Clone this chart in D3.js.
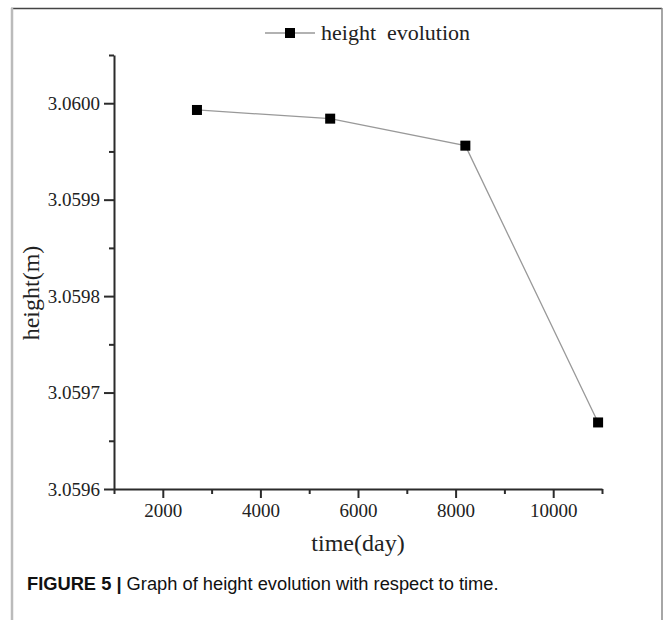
<!DOCTYPE html>
<html>
<head>
<meta charset="utf-8">
<script src="https://cdn.jsdelivr.net/npm/d3@7"></script>
<style>
  html, body { margin: 0; padding: 0; background: #fff; }
  svg { display: block; }
</style>
</head>
<body>
<svg id="chart" width="664" height="620"></svg>
<script>
// Height of the structure sampled over time
const timeDays = [2700, 5430, 8200, 10920];
const heightM = [3.059993, 3.059984, 3.059956, 3.059669];
const seriesName = "height  evolution";

const xMajorTicks = [2000, 4000, 6000, 8000, 10000];
const xMinorTicks = [1000, 3000, 5000, 7000, 9000, 11000];
const yMajorTicks = [3.0596, 3.0597, 3.0598, 3.0599, 3.0600];
const yMinorTicks = [3.05965, 3.05975, 3.05985, 3.05995, 3.06005];

const xTitle = "time(day)";
const yTitle = "height(m)";
const captionBold = "FIGURE 5 |";
const captionText = " Graph of height evolution with respect to time.";

const svg = d3.select("#chart");
const serif = "'Liberation Serif', 'Times New Roman', serif";
const axisColor = "#2b2b2b";

// panel frame
svg.append("line").attr("x1", 11).attr("x2", 662).attr("y1", 8.5).attr("y2", 8.5)
  .attr("stroke", "#444").attr("stroke-width", 1.5);
svg.append("line").attr("x1", 12).attr("x2", 12).attr("y1", 8).attr("y2", 620)
  .attr("stroke", "#bbb").attr("stroke-width", 2.5);
svg.append("line").attr("x1", 662).attr("x2", 662).attr("y1", 8).attr("y2", 620)
  .attr("stroke", "#888").attr("stroke-width", 1.5);

const plot = { left: 114, right: 602, top: 55, bottom: 489 };

const x = d3.scaleLinear().domain([1000, 11000]).range([plot.left, plot.right]);
const y = d3.scaleLinear().domain([3.0596, 3.06005]).range([plot.bottom, plot.top]);

// x axis: major ticks with labels, minor ticks between
const gx = svg.append("g").attr("transform", `translate(0,${plot.bottom})`);
gx.call(d3.axisBottom(x).tickValues(xMajorTicks).tickSize(9).tickPadding(6)
  .tickFormat(d3.format("d")).tickSizeOuter(0));
gx.append("g").call(d3.axisBottom(x).tickValues(xMinorTicks).tickSize(5)
  .tickFormat("").tickSizeOuter(0)).select(".domain").remove();

// y axis
const gy = svg.append("g").attr("transform", `translate(${plot.left},0)`);
gy.call(d3.axisLeft(y).tickValues(yMajorTicks).tickSize(10).tickPadding(4)
  .tickFormat(d3.format(".4f")).tickSizeOuter(0));
gy.append("g").call(d3.axisLeft(y).tickValues(yMinorTicks).tickSize(5)
  .tickFormat("").tickSizeOuter(0)).select(".domain").remove();

svg.selectAll(".domain").attr("stroke", axisColor).attr("stroke-width", 2);
svg.selectAll(".tick line").attr("stroke", axisColor).attr("stroke-width", 2);
svg.selectAll(".tick text").attr("fill", "#222").style("font-family", serif).style("font-size", "19px");

// axis titles
svg.append("text").attr("x", (plot.left + plot.right) / 2).attr("y", 551)
  .attr("text-anchor", "middle").style("font-family", serif).style("font-size", "24px")
  .attr("fill", "#222").text(xTitle);
svg.append("text").attr("transform", "translate(39,293) rotate(-90)")
  .attr("text-anchor", "middle").style("font-family", serif).style("font-size", "24px")
  .attr("fill", "#222").text(yTitle);

// data line and square markers
const line = d3.line().x((d, i) => x(timeDays[i])).y(d => y(d));
svg.append("path").datum(heightM).attr("d", line)
  .attr("fill", "none").attr("stroke", "#999").attr("stroke-width", 1.3);
const ms = 10;
svg.selectAll("rect.pt").data(heightM).join("rect").attr("class", "pt")
  .attr("x", (d, i) => x(timeDays[i]) - ms / 2).attr("y", d => y(d) - ms / 2)
  .attr("width", ms).attr("height", ms).attr("fill", "#000");

// legend
const lg = svg.append("g").attr("transform", "translate(265,33)");
lg.append("line").attr("x1", 0).attr("x2", 50).attr("y1", 0).attr("y2", 0)
  .attr("stroke", "#999").attr("stroke-width", 1.3);
lg.append("rect").attr("x", 20).attr("y", -5).attr("width", ms).attr("height", ms).attr("fill", "#000");
lg.append("text").attr("x", 56).attr("y", 7).style("font-family", serif).style("font-size", "22px")
  .style("white-space", "pre").attr("fill", "#222").text(seriesName);

// caption
const cap = svg.append("text").attr("x", 27).attr("y", 590)
  .style("font-family", "'Liberation Sans', Arial, sans-serif").style("font-size", "18.3px").attr("fill", "#111");
cap.append("tspan").style("font-weight", "bold").text(captionBold);
cap.append("tspan").text(captionText);
</script>
</body>
</html>
